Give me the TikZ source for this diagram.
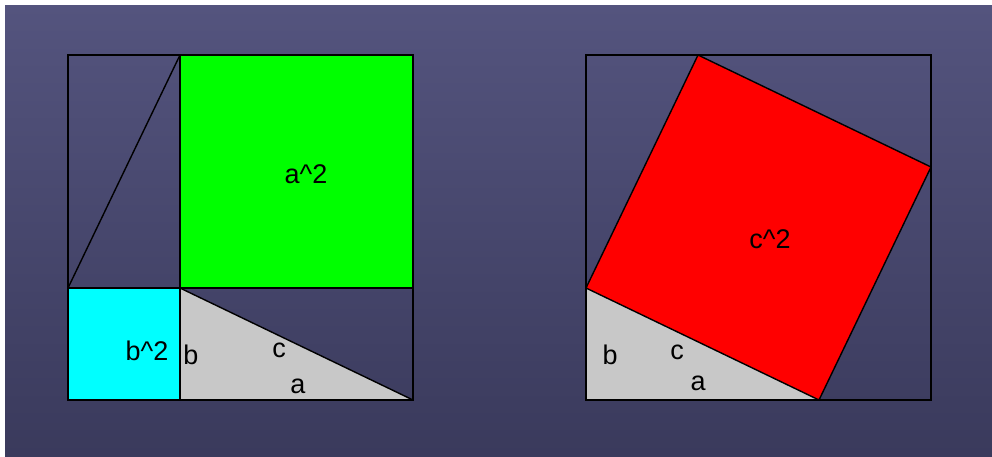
\documentclass[tikz,border=0pt]{standalone}
\usepackage{fontspec}
\setmainfont{Liberation Sans}
\definecolor{slatetop}{RGB}{84,84,126}
\definecolor{slatebot}{RGB}{58,58,92}
\definecolor{trigray}{RGB}{200,200,200}
\definecolor{sqcyan}{RGB}{0,255,255}
\definecolor{sqgreen}{RGB}{0,255,0}
\definecolor{sqred}{RGB}{255,0,0}
\begin{document}
\begin{tikzpicture}[x=1pt,y=-1pt]
	\tikzstyle{every node} = [font=\fontsize{27}{32}\selectfont, inner sep=0pt];
	\tikzstyle{frame} = [draw=black, line width=1.8pt];
	\tikzstyle{edge} = [draw=black, line width=1.4pt];
	\useasboundingbox (0,0) rectangle (992,456);
	\fill[white] (0,0) rectangle (992,456);
	\begin{scope}[y=1pt]
		\shade[top color=slatetop, bottom color=slatebot] (5,-456) rectangle (992,-5);
	\end{scope}
	% left square: a^2 + b^2
	\fill[sqgreen] (180,55) rectangle (413,288);
	\fill[sqcyan] (68,288) rectangle (180,400);
	\fill[trigray] (180,288) -- (180,400) -- (413,400) -- cycle;
	\draw[edge] (68,288) -- (180,55);
	\draw[edge] (180,288) -- (413,400);
	\draw[frame] (180,55) -- (180,400);
	\draw[frame] (68,288) -- (413,288);
	\draw[frame] (68,55) rectangle (413,400);
	\node (asq) at (306,174) {a\textasciicircum 2};
	\node (bsq) at (147,351) {b\textasciicircum 2};
	\node (lb) at (191,355) {b};
	\node (lc) at (279,350) {c};
	\node (la) at (298,386) {a};
	% right square: c^2
	\fill[trigray] (586,288) -- (586,400) -- (819,400) -- cycle;
	\filldraw[fill=sqred, edge] (698,55) -- (931,167) -- (819,400) -- (586,288) -- cycle;
	\draw[frame] (586,55) rectangle (931,400);
	\node (csq) at (770,239) {c\textasciicircum 2};
	\node (rb) at (610,355) {b};
	\node (rc) at (677,352) {c};
	\node (ra) at (698,383) {a};
\end{tikzpicture}
\end{document}
